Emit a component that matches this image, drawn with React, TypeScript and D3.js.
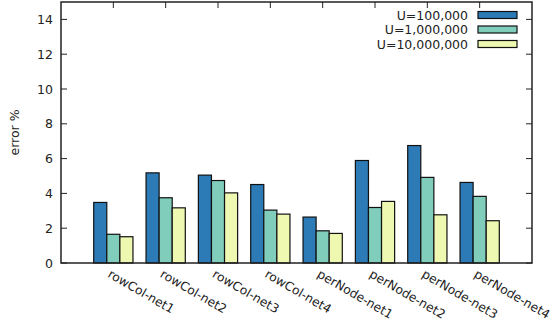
import * as d3 from 'd3'

const categories = [
  'rowCol-net1',
  'rowCol-net2',
  'rowCol-net3',
  'rowCol-net4',
  'perNode-net1',
  'perNode-net2',
  'perNode-net3',
  'perNode-net4',
]
const seriesNames = ['U=100,000', 'U=1,000,000', 'U=10,000,000']
const u100k = [3.48, 5.18, 5.05, 4.51, 2.64, 5.89, 6.75, 4.63]
const u1m = [1.65, 3.75, 4.74, 3.04, 1.85, 3.19, 4.92, 3.83]
const u10m = [1.51, 3.17, 4.03, 2.81, 1.7, 3.54, 2.77, 2.43]
const yTicks = [0, 2, 4, 6, 8, 10, 12, 14]

const colors = ['#2c7bb6', '#80cdbb', '#eef8b0']
const font = 'DejaVu Sans, sans-serif'

const W = 557
const H = 322
const left = 61
const right = 532
const top = 2
const bottom = 263

const App = () => {
  const series = [u100k, u1m, u10m]
  // gnuplot histogram: categories at 0..n-1, range -1..n
  const x = d3.scaleLinear().domain([-1, categories.length]).range([left, right])
  const y = d3.scaleLinear().domain([0, 15]).range([bottom, top])
  const boxW = 0.25

  return (
    <svg
      width={W}
      height={H}
      style={{ position: 'absolute', left: 0, top: 0, background: '#fff' }}
      fontFamily={font}
    >
      {/* bars */}
      {series.map((vals, s) =>
        vals.map((v, i) => {
          const cx = i + (s - 1) * boxW
          const x0 = x(cx - boxW / 2)
          const x1 = x(cx + boxW / 2)
          return (
            <rect
              key={`${s}-${i}`}
              x={x0}
              y={y(v)}
              width={x1 - x0}
              height={y(0) - y(v)}
              fill={colors[s]}
              stroke="#111"
              strokeWidth={1.2}
            />
          )
        })
      )}

      {/* y ticks, left and mirrored right */}
      {yTicks.map((t) => (
        <g key={t}>
          <line x1={left} x2={left + 6} y1={y(t)} y2={y(t)} stroke="#222" />
          <line x1={right - 6} x2={right} y1={y(t)} y2={y(t)} stroke="#222" />
          <text
            x={left - 8}
            y={y(t)}
            textAnchor="end"
            dominantBaseline="central"
            fontSize={12.5}
            fill="#222"
          >
            {t}
          </text>
        </g>
      ))}

      {/* x ticks mirrored on top, labels rotated */}
      {categories.map((c, i) => (
        <g key={c}>
          <line x1={x(i)} x2={x(i)} y1={top} y2={top + 6} stroke="#222" />
          <text
            transform={`translate(${x(i) - 2},${bottom + 6}) rotate(30)`}
            textAnchor="start"
            dominantBaseline="hanging"
            fontSize={12.3}
            fill="#222"
          >
            {c}
          </text>
        </g>
      ))}

      {/* border */}
      <rect
        x={left}
        y={top}
        width={right - left}
        height={bottom - top}
        fill="none"
        stroke="#222"
        strokeWidth={1.5}
      />

      {/* y label */}
      <text
        transform={`translate(19,${(top + bottom) / 2}) rotate(-90)`}
        textAnchor="middle"
        fontSize={12.5}
        fill="#222"
      >
        error %
      </text>

      {/* legend */}
      {seriesNames.map((n, s) => {
        const ly = 15 + s * 14.5
        return (
          <g key={n}>
            <text
              x={468}
              y={ly}
              textAnchor="end"
              dominantBaseline="central"
              fontSize={12.5}
              fill="#222"
            >
              {n}
            </text>
            <rect
              x={478}
              y={ly - 3.5}
              width={39}
              height={7}
              fill={colors[s]}
              stroke="#111"
              strokeWidth={1.2}
            />
          </g>
        )
      })}
    </svg>
  )
}

export default App
